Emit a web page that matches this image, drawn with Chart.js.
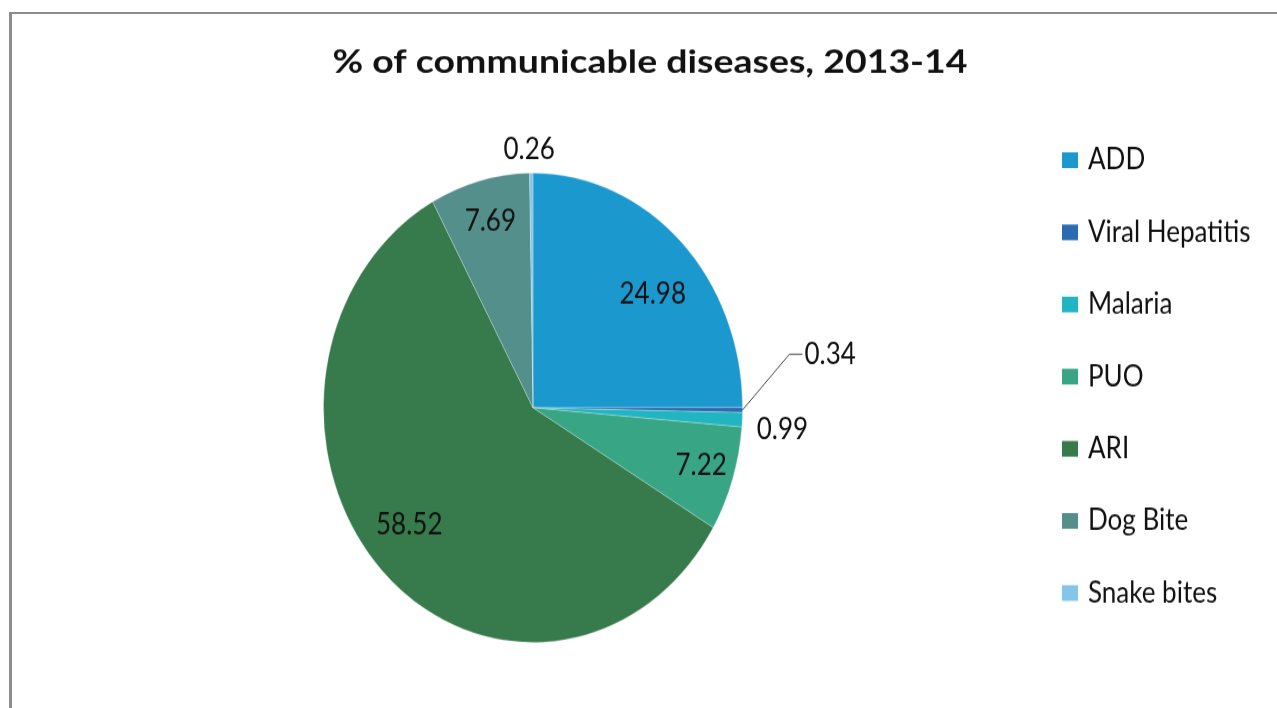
<!DOCTYPE html>
<html>
<head>
<meta charset="utf-8">
<title>% of communicable diseases, 2013-14</title>
<script src="https://cdn.jsdelivr.net/npm/chart.js@4.4.1/dist/chart.umd.min.js"></script>
<style>
  html, body { margin: 0; padding: 0; background: #fff; overflow: hidden; }
  #wrap { position: relative; width: 1277px; height: 708px; overflow: hidden; }
  #frame {
    position: absolute; left: 9px; top: 12px; width: 1400px; height: 800px;
    border-top: 2px solid #8c8c8c; border-left: 3px solid #8c8c8c;
    pointer-events: none;
  }
</style>
</head>
<body>
<div id="wrap">
  <!-- drawn 632px tall, shown 708px tall -->
  <canvas id="chart" width="1277" height="632" style="width:1277px;height:708px"></canvas>
  <div id="frame"></div>
</div>
<script>
const chartTitle = '% of communicable diseases, 2013-14';
const diseases = ['ADD', 'Viral Hepatitis', 'Malaria', 'PUO', 'ARI', 'Dog Bite', 'Snake bites'];
const shares = [24.98, 0.34, 0.99, 7.22, 58.52, 7.69, 0.26];
const sliceColors = ['#1b99cf', '#2a6cb0', '#20b5c0', '#38a585', '#377a4b', '#548f8b', '#86c5ea'];

// where each value label sits: distance as a fraction of the radius, angle shift in degrees
const labelPlacement = [[0.75, 4.7], [1.245, -11.1], [1.194, 1.6], [0.84, -0.5], [0.774, 3.7], [0.82, 0.4], [1.10, -0.5]];
// slices whose label hangs off a leader line
const calloutSlices = [1];

const textColor = '#111';
const labelFont = '26px Lato';
const titleWidth = 635;

const piePainter = {
  id: 'piePainter',
  afterDatasetsDraw(chart) {
    const ctx = chart.ctx;
    const meta = chart.getDatasetMeta(0);
    ctx.save();
    ctx.fillStyle = textColor;
    ctx.font = labelFont;
    ctx.textBaseline = 'middle';
    meta.data.forEach((arc, i) => {
      const p = arc.getProps(['x', 'y', 'startAngle', 'endAngle', 'outerRadius'], true);
      const mid = (p.startAngle + p.endAngle) / 2;
      const [frac, shift] = labelPlacement[i];
      const a = mid + shift * Math.PI / 180;
      const lx = p.x + Math.cos(a) * frac * p.outerRadius;
      const ly = p.y + Math.sin(a) * frac * p.outerRadius;
      const text = shares[i].toFixed(2);
      if (calloutSlices.includes(i)) {
        // leader line from the slice edge to the label
        ctx.strokeStyle = '#404040';
        ctx.lineWidth = 1;
        ctx.beginPath();
        ctx.moveTo(p.x + Math.cos(mid) * p.outerRadius, p.y + Math.sin(mid) * p.outerRadius);
        ctx.lineTo(lx, ly);
        ctx.lineTo(lx + 13, ly);
        ctx.stroke();
        ctx.textAlign = 'left';
        ctx.fillText(text, lx + 15, ly);
      } else {
        ctx.textAlign = 'center';
        ctx.fillText(text, lx, ly);
      }
    });
    ctx.restore();
  },
  afterDraw(chart) {
    const ctx = chart.ctx;
    ctx.save();
    // title, widened to its box
    ctx.fillStyle = textColor;
    ctx.font = 'bold 28px Lato';
    ctx.textAlign = 'center';
    ctx.textBaseline = 'middle';
    const sx = titleWidth / ctx.measureText(chartTitle).width;
    ctx.save();
    ctx.translate(650, 56);
    ctx.scale(sx, 1);
    ctx.fillText(chartTitle, 0, 0);
    ctx.restore();
    // legend on the right
    ctx.font = labelFont;
    ctx.textAlign = 'left';
    diseases.forEach((name, i) => {
      const y = 143 + i * 64.4;
      ctx.fillStyle = sliceColors[i];
      ctx.fillRect(1062, y - 7, 16, 14);
      ctx.fillStyle = textColor;
      ctx.fillText(name, 1088, y);
    });
    ctx.restore();
  }
};

new Chart(document.getElementById('chart'), {
  type: 'pie',
  data: {
    labels: diseases,
    datasets: [{
      data: shares,
      backgroundColor: sliceColors,
      borderColor: 'rgba(255,255,255,0.25)',
      borderWidth: 1
    }]
  },
  options: {
    responsive: false,
    animation: false,
    devicePixelRatio: 1,
    layout: { padding: { left: 323, right: 534, top: 154, bottom: 58 } },
    plugins: {
      legend: { display: false },
      tooltip: { enabled: false },
      title: { display: false }
    }
  },
  plugins: [piePainter]
});
</script>
</body>
</html>
